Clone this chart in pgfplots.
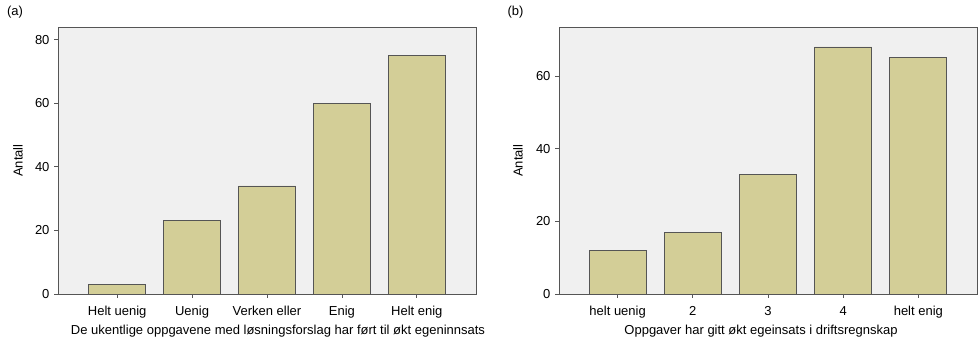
\documentclass[border=0pt]{standalone}
\usepackage{pgfplots}
\pgfplotsset{compat=1.18}
\usepackage{fontspec}
\setmainfont{Liberation Sans}
\definecolor{barfill}{RGB}{211,206,151}
\definecolor{bg}{RGB}{240,240,240}
\definecolor{frame}{RGB}{85,85,85}
\begin{document}
\begin{tikzpicture}
\useasboundingbox (0pt,0pt) rectangle (978pt,344pt);
\pgfplotsset{mybar/.style={
  scale only axis, width=418pt, height=267pt,
  ybar, bar width=57pt, xtick=data, ymin=0,
  axis background/.style={fill=bg},
  axis line style={frame, line width=0.8pt},
  tick style={frame, line width=0.8pt},
  tick align=outside, xtick pos=bottom, ytick pos=left,
  major tick length=4pt,
  /pgf/number format/assume math mode=true,
  tick label style={font=\fontsize{13}{15}\selectfont, text=black},
  xticklabel style={yshift=-5pt},
  yticklabel style={xshift=-1pt},
  label style={font=\fontsize{13}{15}\selectfont, text=black},
  xlabel style={at={(axis description cs:0.5,0)}, anchor=center, yshift=-37pt},
  ylabel style={at={(axis description cs:0,0.5)}, anchor=center, yshift=40pt},
}}
\begin{axis}[mybar, at={(58pt,50pt)}, anchor=south west,
  xmin=-0.79, xmax=4.79, ymax=84,
  ytick={0,20,40,60,80},
  xticklabels={Helt uenig, Uenig, Verken eller, Enig, Helt enig},
  xlabel={De ukentlige oppgavene med løsningsforslag har ført til økt egeninnsats},
  xlabel style={xshift=11pt},
  ylabel={Antall}]
\addplot[fill=barfill, draw=frame, line width=0.8pt] coordinates {(0,3) (1,23) (2,34) (3,60) (4,75)};
\end{axis}
\begin{axis}[mybar, at={(559pt,50pt)}, anchor=south west,
  xmin=-0.78, xmax=4.78, ymax=73.5,
  ytick={0,20,40,60},
  xticklabels={helt uenig, 2, 3, 4, helt enig},
  xlabel={Oppgaver har gitt økt egeinsats i driftsregnskap},
  xlabel style={xshift=-7pt},
  ylabel={Antall}, ylabel style={yshift=1pt}]
\addplot[fill=barfill, draw=frame, line width=0.8pt] coordinates {(0,12) (1,17) (2,33) (3,68) (4,65)};
\end{axis}
\node[font=\fontsize{13}{15}\selectfont] at (15pt,332pt) {(a)};
\node[font=\fontsize{13}{15}\selectfont] at (515.5pt,332pt) {(b)};
\end{tikzpicture}
\end{document}
